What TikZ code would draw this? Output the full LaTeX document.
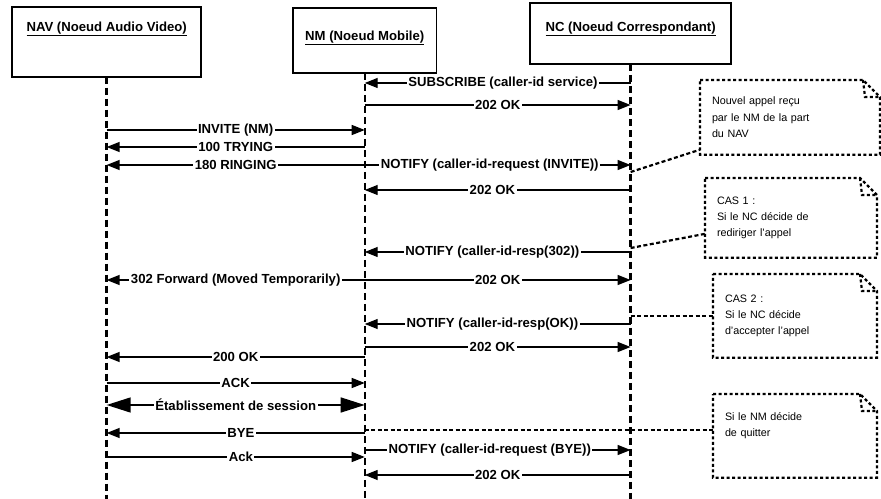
\documentclass[tikz,border=0pt]{standalone}
\usepackage{fontspec}
\setmainfont{Liberation Sans}
\usetikzlibrary{arrows.meta,calc}
\newcommand\sipmsg[5]{\draw[msg] (#1box.south |- 0,#3) -- node[lbl,pos=#5]{#4} (#2box.south |- 0,#3);}
\newcommand\noteoutline[1]{%
  \draw[notebd] (#1.north west) -- ($(#1.north east)+(-17,0)$) -- ($(#1.north east)+(0,17)$) -- (#1.south east) -- (#1.south west) -- cycle;
  \draw[notebd] ($(#1.north east)+(-17,0)$) -- ($(#1.north east)+(-15,17)$) -- ($(#1.north east)+(0,17)$);}
\begin{document}
\begin{tikzpicture}[x=1bp,y=-1bp,
  objbox/.style={draw, line width=1.6bp, anchor=north west, outer sep=0pt},
  ttl/.style={font=\bfseries\fontsize{13.2}{15}\selectfont},
  lifeline/.style={line width=2.4bp, dash pattern=on 7bp off 4bp},
  msg/.style={line width=1.4bp, -{Triangle[length=13bp,width=10bp]}},
  bigmsg/.style={line width=1.4bp, {Triangle[length=24bp,width=15bp]}-{Triangle[length=24bp,width=15bp]}},
  lbl/.style={font=\bfseries\fontsize{13.2}{15}\selectfont, fill=white, inner xsep=1.5bp, inner ysep=0.5bp},
  note/.style={anchor=north west, outer sep=0pt, inner xsep=12bp, align=left, font=\fontsize{10.8}{16.5}\selectfont},
  notebd/.style={line width=2.2bp, dash pattern=on 3bp off 2.5bp},
  conn/.style={line width=2.2bp, dash pattern=on 4bp off 2.5bp},
]
\useasboundingbox (0,0) rectangle (881,499);

% object boxes
\node[objbox, minimum width=190, minimum height=70,
  label={[ttl, anchor=center, yshift=-22bp]north:\underline{NAV (Noeud Audio Video)}}] (navbox) at (12,7) {};
\node[objbox, minimum width=144, minimum height=65,
  label={[ttl, anchor=center, yshift=-30bp]north:\underline{NM (Noeud Mobile)}}] (nmbox) at (293,8) {};
\node[objbox, minimum width=202, minimum height=61,
  label={[ttl, anchor=center, yshift=-26bp]north:\underline{NC (Noeud Correspondant)}}] (ncbox) at (530,3) {};

% lifelines
\coordinate (navend) at (navbox.south |- 0,499);
\coordinate (nmend) at (nmbox.south |- 0,499);
\coordinate (ncend) at (ncbox.south |- 0,499);
\draw[lifeline] (navbox.south) -- (navend);
\draw[lifeline] (nmbox.south) -- (nmend);
\draw[lifeline] (ncbox.south) -- (ncend);

% messages
\sipmsg{nc}{nm}{83}{SUBSCRIBE (caller-id service)}{0.48}
\sipmsg{nm}{nc}{105}{202 OK}{0.5}
\sipmsg{nav}{nm}{130}{INVITE (NM)}{0.5}
\sipmsg{nm}{nav}{147}{100 TRYING}{0.5}
\sipmsg{nm}{nav}{165}{180 RINGING}{0.5}
\sipmsg{nm}{nc}{165}{NOTIFY (caller-id-request (INVITE))}{0.47}
\sipmsg{nc}{nm}{190}{202 OK}{0.52}
\sipmsg{nc}{nm}{252}{NOTIFY (caller-id-resp(302))}{0.52}
\sipmsg{nm}{nc}{280}{202 OK}{0.5}
\sipmsg{nm}{nav}{280}{302 Forward (Moved Temporarily)}{0.5}
\sipmsg{nc}{nm}{324}{NOTIFY (caller-id-resp(OK))}{0.52}
\sipmsg{nm}{nc}{347}{202 OK}{0.48}
\sipmsg{nm}{nav}{357}{200 OK}{0.5}
\sipmsg{nav}{nm}{383}{ACK}{0.5}
\draw[bigmsg] (navbox.south |- 0,405) -- node[lbl,pos=0.5]{Établissement de session} (nmbox.south |- 0,405);
\sipmsg{nm}{nav}{433}{BYE}{0.48}
\sipmsg{nm}{nc}{450}{NOTIFY (caller-id-request (BYE))}{0.47}
\sipmsg{nav}{nm}{457}{Ack}{0.52}
\sipmsg{nc}{nm}{475}{202 OK}{0.5}

% notes
\node[note, minimum width=180, minimum height=75, text width=156bp] (note1) at (700,80)
  {Nouvel appel reçu\\par le NM de la part\\du NAV};
\node[note, minimum width=172, minimum height=80, text width=148bp] (note2) at (705,178)
  {CAS 1 :\\Si le NC décide de\\rediriger l'appel};
\node[note, minimum width=164, minimum height=84, text width=140bp] (note3) at (713,274)
  {CAS 2 :\\Si le NC décide\\d'accepter l'appel};
\node[note, minimum width=164, minimum height=84, text width=140bp] (note4) at (713,394)
  {Si le NM décide\\de quitter\\[6bp]~};
\noteoutline{note1}
\noteoutline{note2}
\noteoutline{note3}
\noteoutline{note4}

% note connectors
\draw[conn] (ncbox.south |- 0,172) -- ($(note1.south west)+(0,-5)$);
\draw[conn] (ncbox.south |- 0,248) -- ($(note2.west)+(0,16)$);
\draw[conn] (ncbox.south |- note3.west) -- (note3.west);
\draw[conn] (nmbox.south |- 0,430) -- (note4.west |- 0,430);
\end{tikzpicture}
\end{document}
